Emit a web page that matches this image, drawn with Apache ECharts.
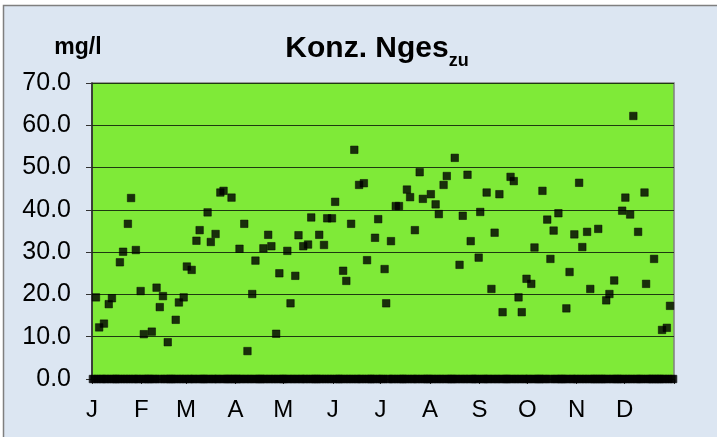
<!DOCTYPE html>
<html>
<head>
<meta charset="utf-8">
<script src="https://cdn.jsdelivr.net/npm/echarts@6/dist/echarts.min.js"></script>
<style>
html,body{margin:0;padding:0;background:#ffffff;}
#chart{width:717px;height:437px;}
</style>
</head>
<body>
<div id="chart"></div>
<script>
// Daily concentrations (mg/l) per month; 0 where no sample was plotted
const jan = [0,0,19.3,0,12.2,0,0,13.1,0,0, 17.7,0,19.1,0,0,0,0,27.6,0,30.1, 0,0,36.7,0,42.8,0,0,30.5,0,0, 20.8];
const feb = [0,10.6,0,0,0,0,11.2,0,0,21.6, 0,17.0,0,19.6,0,0,8.7,0,0,0, 0,14.0,0,18.1,0,0,19.3,0];
const mar = [26.6,0,0,25.8,0,0,32.7,0,35.2,0, 0,0,0,39.4,0,32.4,0,0,34.3,0, 0,44.1,0,44.5,0,0,0,0,42.9,0, 0];
const apr = [0,0,30.8,0,0,36.7,0,6.6,0,0, 20.1,0,28.0,0,0,0,0,30.9,0,0, 34.1,0,31.4,0,0,10.7,0,25.0,0,0];
const may = [0,0,30.3,0,17.9,0,0,24.4,0,34.0, 0,0,31.4,0,0,31.8,0,38.2,0,0, 0,0,34.1,0,0,31.7,0,38.0,0,0, 38.0];
const jun = [0,41.9,0,0,0,0,25.6,0,23.2,0, 0,36.7,0,54.2,0,0,45.9,0,0,46.3, 0,28.1,0,0,0,0,33.4,0,37.8,0];
const jul = [0,0,26.0,17.9,0,0,32.6,0,0,40.9, 0,40.9,0,0,0,0,44.8,0,43.0,0, 0,35.2,0,0,48.9,0,42.6,0,0,0, 0];
const aug = [43.7,0,0,41.3,0,39.0,0,0,45.9,0, 48.0,0,0,0,0,52.3,0,0,27.0,0, 38.6,0,0,48.3,0,32.6,0,0,0,0, 28.7];
const sep = [39.5,0,0,0,44.1,0,0,21.3,0,34.6, 0,0,43.7,0,15.8,0,0,0,0,47.8, 0,46.8,0,0,19.3,0,15.8,0,0,23.7];
const oct = [0,0,22.5,0,31.1,0,0,0,0,44.5, 0,0,37.7,0,28.4,0,35.1,0,0,39.2, 0,0,0,0,16.7,0,25.3,0,0,34.2, 0];
const nov = [0,46.4,0,31.2,0,0,34.8,0,21.3,0, 0,0,0,35.5,0,0,0,0,18.6,0, 20.1,0,0,23.3,0,0,0,0,39.8,0];
const dec = [42.9,0,0,38.9,0,62.2,0,0,34.8,0, 0,0,44.1,22.5,0,0,0,0,28.4,0, 0,0,0,11.6,0,0,12.1,0,17.3,0, 0];

const monthLabels = ['J','F','M','A','M','J','J','A','S','O','N','D'];
const monthStartDay = [0,31,59,90,120,151,181,212,243,273,304,334];
const yearEndDay = 365;
const yTicks = [0,10,20,30,40,50,60,70];

const months = [jan,feb,mar,apr,may,jun,jul,aug,sep,oct,nov,dec];
const points = [];
months.forEach((m, mi) => {
  m.forEach((v, di) => {
    points.push([monthStartDay[mi] + di + 0.5, v]);
  });
});

const chart = echarts.init(document.getElementById('chart'), null, {renderer:'canvas'});
const FONT = 'Liberation Sans, Arial, sans-serif';
chart.setOption({
  animation: false,
  backgroundColor: '#ffffff',
  graphic: [{
    type: 'rect', z: -10, silent: true,
    shape: {x: 3.5, y: 5.5, width: 760, height: 480},
    style: {fill: '#DCE6F2', stroke: '#7F7F7F', lineWidth: 1.5}
  }],
  title: {
    text: '{a|Konz. Nges}{b|zu}',
    left: 372, top: 25, textAlign: 'center',
    textStyle: {
      rich: {
        a: {fontFamily: FONT, fontWeight: 'bold', fontSize: 30, color: '#000', verticalAlign: 'bottom', lineHeight: 34},
        b: {fontFamily: FONT, fontWeight: 'bold', fontSize: 18, color: '#000', verticalAlign: 'bottom', lineHeight: 26, padding: [0,0,-6,0]}
      }
    }
  },
  grid: {
    left: 92, top: 83, width: 582, height: 296,
    show: true, backgroundColor: '#7FEA38', borderColor: '#808080', borderWidth: 1.5
  },
  xAxis: {
    type: 'value', min: 0, max: yearEndDay,
    axisLine: {show: true, onZero: false, lineStyle: {color: '#000', width: 1}},
    axisTick: {show: true, length: 5, customValues: monthStartDay.concat([yearEndDay]), lineStyle: {color: '#333'}},
    axisLabel: {
      customValues: monthStartDay,
      formatter: v => monthLabels[monthStartDay.indexOf(v)],
      fontFamily: FONT, fontSize: 24, color: '#000', margin: 19
    },
    splitLine: {show: false}
  },
  yAxis: {
    type: 'value', min: yTicks[0], max: yTicks[yTicks.length-1], interval: 10,
    name: 'mg/l', nameLocation: 'end', nameGap: 24,
    nameTextStyle: {fontFamily: FONT, fontWeight: 'bold', fontSize: 23, color: '#000', align: 'center', padding: [0, 0, 0, -28]},
    axisLine: {show: true, lineStyle: {color: '#222', width: 1.5}},
    axisTick: {show: true, length: 6, lineStyle: {color: '#333'}},
    axisLabel: {formatter: v => v.toFixed(1), fontFamily: FONT, fontSize: 25, color: '#000', margin: 21},
    splitLine: {show: true, lineStyle: {color: '#1e3a10', width: 1.2}}
  },
  series: [{
    type: 'scatter',
    symbol: 'rect', symbolSize: 7.5,
    itemStyle: {color: '#000', borderColor: '#000', borderWidth: 0.6},
    clip: false,
    data: points
  }]
});
</script>
</body>
</html>
